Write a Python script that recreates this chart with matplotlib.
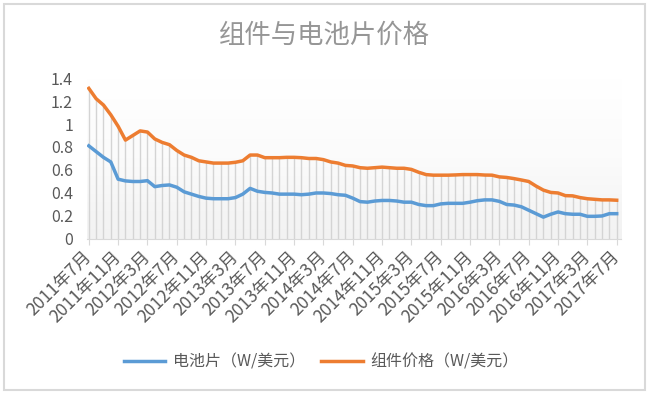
import matplotlib
matplotlib.use('Agg')
import matplotlib.pyplot as plt
import numpy as np
from matplotlib.patches import Rectangle
from matplotlib.colors import LinearSegmentedColormap

plt.rcParams['font.family'] = ['Noto Sans CJK SC', 'DejaVu Sans']

# 2011年7月 .. 2017年7月, monthly
years = [2011 + (6 + i) // 12 for i in range(73)]
months = [(6 + i) % 12 + 1 for i in range(73)]
labels = ['%d年%d月' % (y, m) for y, m in zip(years, months)]

cell = [0.81, 0.76, 0.71, 0.67, 0.52, 0.505, 0.50, 0.50, 0.507, 0.455,
        0.465, 0.47, 0.45, 0.41, 0.39, 0.37, 0.355, 0.35, 0.35, 0.35,
        0.36, 0.39, 0.44, 0.415, 0.405, 0.40, 0.39, 0.39, 0.39, 0.385,
        0.39, 0.40, 0.40, 0.395, 0.385, 0.38, 0.355, 0.325, 0.32, 0.33,
        0.335, 0.335, 0.33, 0.32, 0.32, 0.30, 0.29, 0.29, 0.305, 0.31,
        0.31, 0.31, 0.32, 0.333, 0.34, 0.34, 0.327, 0.30, 0.295, 0.28,
        0.25, 0.22, 0.19, 0.215, 0.235, 0.22, 0.215, 0.215, 0.197, 0.197,
        0.20, 0.22, 0.22]

module = [1.31, 1.22, 1.165, 1.08, 0.98, 0.86, 0.90, 0.94, 0.93, 0.87,
          0.84, 0.82, 0.77, 0.73, 0.71, 0.68, 0.67, 0.66, 0.66, 0.66,
          0.667, 0.68, 0.73, 0.73, 0.707, 0.707, 0.707, 0.71, 0.71, 0.707,
          0.70, 0.70, 0.69, 0.67, 0.66, 0.64, 0.635, 0.62, 0.615, 0.62,
          0.625, 0.62, 0.615, 0.615, 0.605, 0.58, 0.56, 0.555, 0.555, 0.555,
          0.557, 0.56, 0.56, 0.56, 0.556, 0.555, 0.54, 0.535, 0.525, 0.513,
          0.50, 0.46, 0.425, 0.405, 0.40, 0.377, 0.375, 0.36, 0.35, 0.345,
          0.34, 0.34, 0.337]

x = np.arange(len(labels))

fig = plt.figure(figsize=(6.49, 3.95), dpi=100)
fig.patches.append(Rectangle((0.006, 0.012), 0.988, 0.978, transform=fig.transFigure,
                             fill=False, edgecolor='#d9d9d9', lw=1.5))

ax = fig.add_axes([0.134, 0.395, 0.823, 0.4075])

# faint gradient background of the plot area (white at top, light grey below)
bg = LinearSegmentedColormap.from_list('bg', ['#ffffff', '#fbfbfb', '#f2f2f2'])
grad = np.linspace(0, 1, 100).reshape(-1, 1)
ax.imshow(grad, extent=[0, 1, 0, 1], transform=ax.transAxes, cmap=bg,
          aspect='auto', zorder=0, origin='upper')

ax.vlines(x, 0, module, color='#d4d4d4', lw=1, zorder=1)
ax.plot(x, cell, color='#5B9BD5', lw=2.5, label='电池片（W/美元）', zorder=3,
        solid_joinstyle='round')
ax.plot(x, module, color='#ED7D31', lw=2.5, label='组件价格（W/美元）', zorder=3,
        solid_joinstyle='round')

ax.set_xlim(-0.25, 72.6)
ax.set_ylim(0, 1.4)
ax.set_yticks(np.arange(0, 1.41, 0.2))
ax.set_yticklabels(['0', '0.2', '0.4', '0.6', '0.8', '1', '1.2', '1.4'])
ax.set_xticks(x[::4])
ax.set_xticklabels(labels[::4], rotation=45, ha='right', va='center',
                   rotation_mode='anchor')

for s in ['top', 'right', 'left']:
    ax.spines[s].set_visible(False)
ax.spines['bottom'].set_color('#d9d9d9')
ax.tick_params(axis='y', length=0, labelsize=11.5, colors='#595959', pad=10)
ax.tick_params(axis='x', length=4, color='#d9d9d9', labelsize=12.5,
               labelcolor='#595959', pad=7)

fig.text(0.5, 0.91, '组件与电池片价格', ha='center', va='center',
         fontsize=19, color='#969696')

fig.legend(loc='center', bbox_to_anchor=(0.495, 0.083), ncol=2, frameon=False,
           fontsize=11.5, labelcolor='#595959', handlelength=2.6,
           columnspacing=1.0, handletextpad=0.5)

fig.savefig('out.png', dpi=100)
